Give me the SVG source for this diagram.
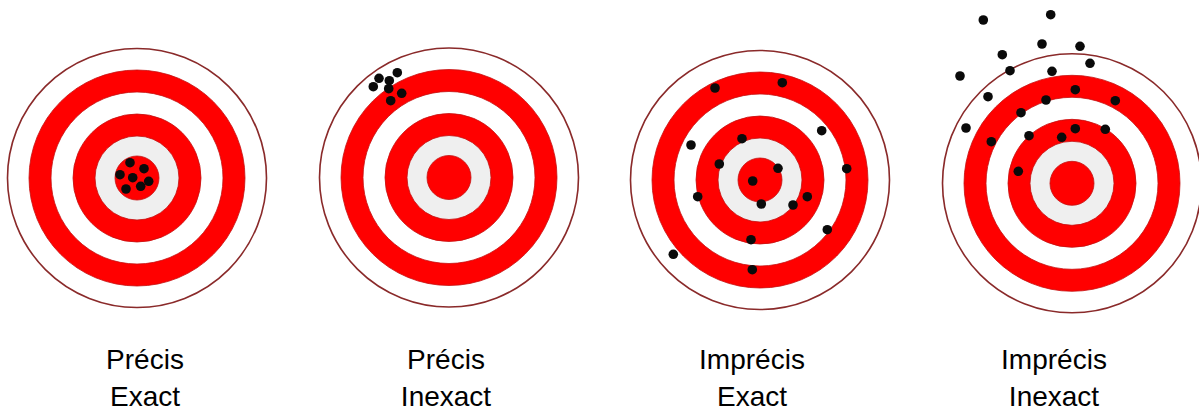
<svg xmlns="http://www.w3.org/2000/svg" xmlns:xlink="http://www.w3.org/1999/xlink" width="1199" height="412" viewBox="0 0 1199 412">
  <style>
    .lbl { font-family: "Liberation Sans", Arial, sans-serif; font-size: 28px; fill: #000; text-anchor: middle; }
    .dot { fill: #0a0a0a; }
    .edge { fill: #ffffff; stroke: #8a2a2a; stroke-width: 1.6; }
    .red { fill: #ff0000; stroke: #c41010; stroke-width: 0.8; }
    .wht { fill: #ffffff; stroke: #c41010; stroke-width: 0.8; }
    .gry { fill: #efefef; stroke: #c41010; stroke-width: 0.8; }
  </style>
  <defs>
    <g id="target">
      <circle class="edge" r="129.5"/>
      <circle class="red" r="108"/>
      <circle class="wht" r="86"/>
      <circle class="red" r="64"/>
      <circle class="gry" r="42"/>
      <circle class="red" r="22"/>
    </g>
  </defs>
  <rect width="1199" height="412" fill="#ffffff"/>

  <g id="target1">
    <use xlink:href="#target" href="#target" x="137" y="178"/>
    <g class="dot">
      <circle cx="130" cy="162.7" r="4.8"/>
      <circle cx="144" cy="168.7" r="4.8"/>
      <circle cx="120" cy="174.7" r="4.8"/>
      <circle cx="132.7" cy="177.7" r="4.8"/>
      <circle cx="148.7" cy="181.3" r="4.8"/>
      <circle cx="140.7" cy="186.3" r="4.8"/>
      <circle cx="126" cy="189" r="4.8"/>
    </g>
    <text class="lbl" x="145" y="369">Précis</text>
    <text class="lbl" x="145" y="406">Exact</text>
  </g>

  <g id="target2">
    <use xlink:href="#target" href="#target" x="449" y="177.5"/>
    <g class="dot">
      <circle cx="379" cy="78.3" r="4.8"/>
      <circle cx="397.3" cy="72.7" r="4.8"/>
      <circle cx="389.3" cy="80.7" r="4.8"/>
      <circle cx="373.3" cy="86.7" r="4.8"/>
      <circle cx="388.7" cy="88.7" r="4.8"/>
      <circle cx="401.7" cy="93.3" r="4.8"/>
      <circle cx="390.7" cy="100.7" r="4.8"/>
    </g>
    <text class="lbl" x="446" y="369">Précis</text>
    <text class="lbl" x="446" y="406">Inexact</text>
  </g>

  <g id="target3">
    <use xlink:href="#target" href="#target" x="760" y="180"/>
    <g class="dot">
      <circle cx="715" cy="88" r="4.8"/>
      <circle cx="782.3" cy="82.7" r="4.8"/>
      <circle cx="821.7" cy="130.7" r="4.8"/>
      <circle cx="691" cy="145" r="4.8"/>
      <circle cx="742" cy="138.7" r="4.8"/>
      <circle cx="719.3" cy="164" r="4.8"/>
      <circle cx="778" cy="168.3" r="4.8"/>
      <circle cx="846.7" cy="168.7" r="4.8"/>
      <circle cx="752.7" cy="181" r="4.8"/>
      <circle cx="697.7" cy="196.7" r="4.8"/>
      <circle cx="807.3" cy="196.7" r="4.8"/>
      <circle cx="761.3" cy="204" r="4.8"/>
      <circle cx="793" cy="205" r="4.8"/>
      <circle cx="827.3" cy="229.7" r="4.8"/>
      <circle cx="751" cy="239.7" r="4.8"/>
      <circle cx="673.3" cy="254.3" r="4.8"/>
      <circle cx="752.3" cy="269.7" r="4.8"/>
    </g>
    <text class="lbl" x="752" y="369">Imprécis</text>
    <text class="lbl" x="752" y="406">Exact</text>
  </g>

  <g id="target4">
    <use xlink:href="#target" href="#target" x="1072" y="183.3"/>
    <g class="dot">
      <circle cx="983.3" cy="20" r="4.8"/>
      <circle cx="1050.7" cy="14.7" r="4.8"/>
      <circle cx="1042" cy="44" r="4.8"/>
      <circle cx="1080" cy="46.3" r="4.8"/>
      <circle cx="1002.3" cy="54.7" r="4.8"/>
      <circle cx="1090" cy="63.3" r="4.8"/>
      <circle cx="1010" cy="70.7" r="4.8"/>
      <circle cx="1052" cy="71.3" r="4.8"/>
      <circle cx="960" cy="76" r="4.8"/>
      <circle cx="1075.3" cy="89.7" r="4.8"/>
      <circle cx="988" cy="96.7" r="4.8"/>
      <circle cx="1046" cy="100" r="4.8"/>
      <circle cx="1115.3" cy="100.7" r="4.8"/>
      <circle cx="1021" cy="112.7" r="4.8"/>
      <circle cx="966" cy="128" r="4.8"/>
      <circle cx="1075.3" cy="128.7" r="4.8"/>
      <circle cx="1105.3" cy="129.3" r="4.8"/>
      <circle cx="1029" cy="135.7" r="4.8"/>
      <circle cx="1061.7" cy="137.3" r="4.8"/>
      <circle cx="991.3" cy="141.7" r="4.8"/>
      <circle cx="1018.3" cy="171.3" r="4.8"/>
    </g>
    <text class="lbl" x="1054" y="369">Imprécis</text>
    <text class="lbl" x="1054" y="406">Inexact</text>
  </g>
</svg>
